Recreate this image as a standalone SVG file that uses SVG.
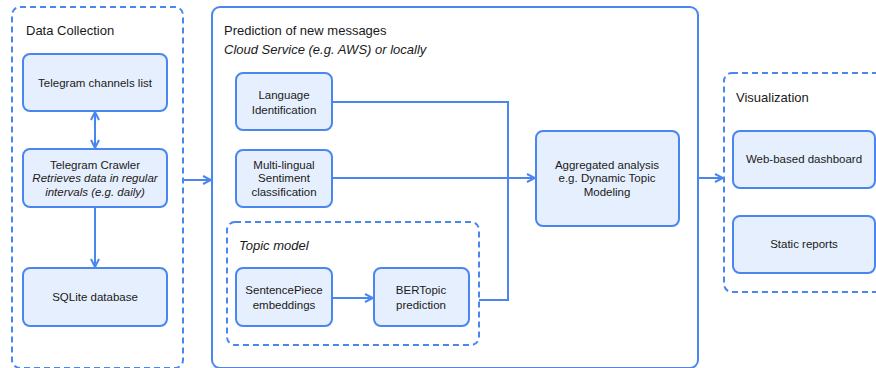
<svg xmlns="http://www.w3.org/2000/svg" width="876" height="368" viewBox="0 0 876 368">
<style>
.grp{fill:none;stroke:#4a86f0;stroke-width:2;stroke-dasharray:6 4}
.pan{fill:#fff;stroke:#4a86f0;stroke-width:2}
.box{fill:#e6effd;stroke:#4a86f0;stroke-width:2}
.ln{fill:none;stroke:#4a86f0;stroke-width:2}
text{font-family:"Liberation Sans",Arial,sans-serif;fill:#1a1a1a}
.t{font-size:13px}
.n{font-size:11.5px;text-anchor:middle}
.i{font-style:italic}
</style>
<defs>
<marker id="ah" viewBox="0 0 10 10" refX="9" refY="5" markerWidth="10" markerHeight="10" markerUnits="userSpaceOnUse" orient="auto-start-reverse">
<path d="M1,1 L9,5 L1,9" fill="none" stroke="#4a86f0" stroke-width="2"/>
</marker>
</defs>
<g id="data-collection">
<rect class="grp" x="12" y="7" width="171" height="361" rx="8"/>
<text class="t" x="26" y="35">Data Collection</text>
</g>
<g id="prediction">
<rect class="pan" x="212" y="7" width="486" height="361" rx="8"/>
<text class="t" x="224" y="35">Prediction of new messages</text>
<text class="t i" x="224" y="54">Cloud Service (e.g. AWS) or locally</text>
</g>
<g id="topic-model">
<rect class="grp" x="227" y="222" width="252" height="123" rx="8"/>
<text class="t i" x="239" y="250">Topic model</text>
</g>
<g id="visualization">
<rect class="grp" x="724" y="73" width="170" height="219" rx="8"/>
<text class="t" x="736" y="102">Visualization</text>
</g>
<g id="connectors">
<line class="ln" x1="95" y1="112" x2="95" y2="148" marker-start="url(#ah)" marker-end="url(#ah)"/>
<line class="ln" x1="95" y1="207" x2="95" y2="267" marker-end="url(#ah)"/>
<line class="ln" x1="183" y1="180" x2="211" y2="180" marker-end="url(#ah)"/>
<polyline class="ln" points="332,102 508,102 508,178"/>
<polyline class="ln" points="479,300 508,300 508,178"/>
<line class="ln" x1="332" y1="178" x2="535" y2="178" marker-end="url(#ah)"/>
<line class="ln" x1="332" y1="298" x2="373" y2="298" marker-end="url(#ah)"/>
<line class="ln" x1="698" y1="178" x2="723" y2="178" marker-end="url(#ah)"/>
</g>
<g id="channels-list">
<rect class="box" x="23" y="54" width="144" height="57" rx="7"/>
<text class="n" x="95" y="87">Telegram channels list</text>
</g>
<g id="crawler">
<rect class="box" x="23" y="149" width="144" height="58" rx="7"/>
<text class="n" x="95" y="169">Telegram Crawler</text>
<text class="n i" x="95" y="182">Retrieves data in regular</text>
<text class="n i" x="95" y="196">intervals (e.g. daily)</text>
</g>
<g id="sqlite">
<rect class="box" x="23" y="268" width="144" height="58" rx="7"/>
<text class="n" x="95" y="301">SQLite database</text>
</g>
<g id="lang-id">
<rect class="box" x="236" y="73" width="96" height="57" rx="7"/>
<text class="n" x="284" y="99">Language</text>
<text class="n" x="284" y="114">Identification</text>
</g>
<g id="sentiment">
<rect class="box" x="236" y="150" width="96" height="57" rx="7"/>
<text class="n" x="284" y="169">Multi-lingual</text>
<text class="n" x="284" y="182">Sentiment</text>
<text class="n" x="284" y="196">classification</text>
</g>
<g id="sentencepiece">
<rect class="box" x="236" y="268" width="96" height="58" rx="7"/>
<text class="n" x="284" y="294">SentencePiece</text>
<text class="n" x="284" y="309">embeddings</text>
</g>
<g id="bertopic">
<rect class="box" x="374" y="268" width="95" height="58" rx="7"/>
<text class="n" x="421" y="294">BERTopic</text>
<text class="n" x="421" y="309">prediction</text>
</g>
<g id="aggregated">
<rect class="box" x="536" y="131" width="143" height="95" rx="7"/>
<text class="n" x="607" y="169">Aggregated analysis</text>
<text class="n" x="607" y="182">e.g. Dynamic Topic</text>
<text class="n" x="607" y="196">Modeling</text>
</g>
<g id="dashboard">
<rect class="box" x="733" y="131" width="142" height="57" rx="7"/>
<text class="n" x="804" y="163">Web-based dashboard</text>
</g>
<g id="static-reports">
<rect class="box" x="733" y="216" width="142" height="57" rx="7"/>
<text class="n" x="804" y="248">Static reports</text>
</g>
</svg>
